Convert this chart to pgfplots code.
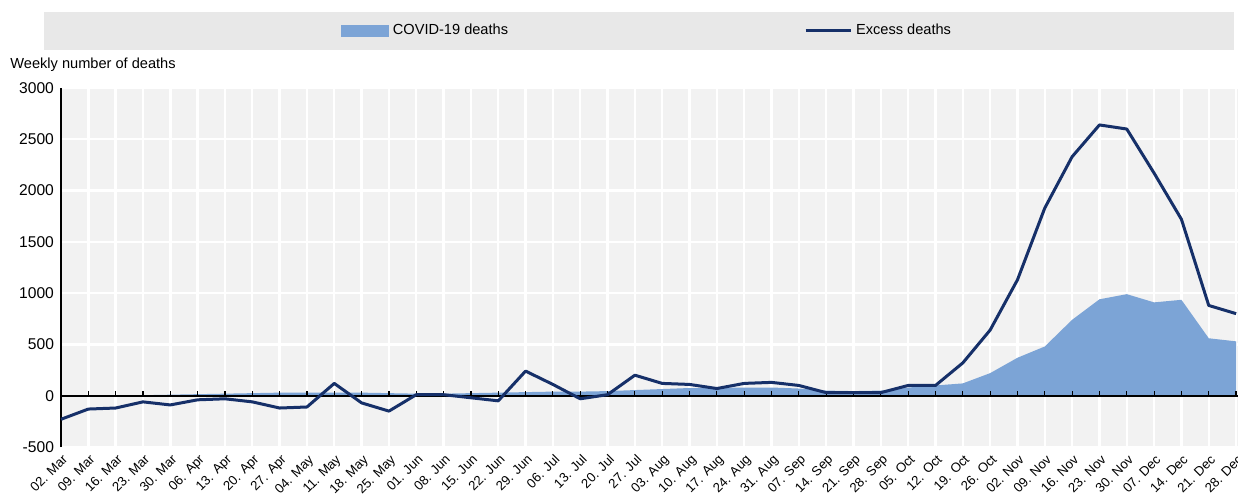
\documentclass[border=0pt]{standalone}
\usepackage{fontspec}
\setmainfont{Liberation Sans}
\usepackage{pgfplots}
\pgfplotsset{compat=1.18}
\definecolor{covid}{RGB}{124,164,214}
\definecolor{excess}{RGB}{22,48,105}
\definecolor{plotbg}{RGB}{242,242,242}
\definecolor{legbg}{RGB}{232,232,232}
\begin{document}
\begin{tikzpicture}
\fill[legbg] (-8.5pt,198.5pt) rectangle (586.5pt,217.5pt);
\begin{axis}[
  at={(0pt,0pt)}, anchor=south west,
  scale only axis, width=588.5pt, height=179.5pt,
  xmin=0, xmax=43.07, ymin=-500, ymax=3000,
  axis background/.style={fill=plotbg},
  axis y line*=left, axis x line*=bottom,
  x axis line style={draw=none},
  y axis line style={black, line width=0.8pt},
  xtick={0,...,43},
  xticklabels={02. Mar,09. Mar,16. Mar,23. Mar,30. Mar,06. Apr,13. Apr,20. Apr,27. Apr,04. May,11. May,18. May,25. May,01. Jun,08. Jun,15. Jun,22. Jun,29. Jun,06. Jul,13. Jul,20. Jul,27. Jul,03. Aug,10. Aug,17. Aug,24. Aug,31. Aug,07. Sep,14. Sep,21. Sep,28. Sep,05. Oct,12. Oct,19. Oct,26. Oct,02. Nov,09. Nov,16. Nov,23. Nov,30. Nov,07. Dec,14. Dec,21. Dec,28. Dec},
  xticklabel style={font=\fontsize{6.6}{7.5}\selectfont, rotate=45, anchor=north east, inner sep=1pt, xshift=-1pt, yshift=-1.5pt},
  ytick={-500,0,500,1000,1500,2000,2500,3000},
  yticklabel style={font=\fontsize{7.8}{9}\selectfont},
  /pgf/number format/assume math mode=true,
  /pgf/number format/1000 sep={},
  major tick length=0pt,
  grid=major,
  grid style={white, line width=1.2pt},
  legend columns=2,
  legend style={at={(0.4987,1.1588)}, anchor=center, draw=none, fill=none,
    font=\fontsize{7.3}{9}\selectfont, /tikz/every even column/.append style={column sep=146pt}},
  clip=false,
]
\addplot[fill=covid, draw=none,
  legend image code/.code={\fill[covid] (0pt,-3pt) rectangle (24pt,3pt);}]
coordinates {
(0,0) (1,0) (2,2) (3,5) (4,10) (5,15) (6,20) (7,25) (8,30) (9,30) (10,30) (11,30) (12,25) (13,20) (14,20) (15,25) (16,30) (17,35) (18,40) (19,40) (20,45) (21,55) (22,65) (23,75) (24,75) (25,80) (26,80) (27,70) (28,50) (29,45) (30,50) (31,80) (32,100) (33,120) (34,220) (35,370) (36,480) (37,740) (38,940) (39,990) (40,910) (41,935) (42,560) (43,530)
} \closedcycle;
\addlegendentry{COVID-19 deaths}
\draw[black, line width=0.9pt] (axis cs:0,0) -- (axis cs:43.07,0);
\pgfplotsinvokeforeach{0,...,43}{\draw[black, line width=0.6pt] (axis cs:#1,0) -- ++(0pt,2.5pt);}
\addplot[excess, line width=1.5pt, line join=round,
  legend image code/.code={\draw[excess, line width=1.5pt] (0pt,0pt) -- (22.5pt,0pt);}]
coordinates {
(0,-230) (1,-130) (2,-120) (3,-60) (4,-90) (5,-40) (6,-30) (7,-60) (8,-120) (9,-110) (10,120) (11,-70) (12,-150) (13,10) (14,10) (15,-20) (16,-50) (17,240) (18,110) (19,-30) (20,10) (21,200) (22,120) (23,110) (24,70) (25,120) (26,130) (27,100) (28,30) (29,30) (30,30) (31,100) (32,100) (33,320) (34,640) (35,1130) (36,1830) (37,2330) (38,2640) (39,2600) (40,2170) (41,1720) (42,880) (43,800)
};
\addlegendentry{Excess deaths}
\end{axis}
\node[anchor=base west, inner sep=0pt, font=\fontsize{7.3}{9}\selectfont] at (-25.5pt,189pt) {Weekly number of deaths};
\pgfresetboundingbox
\useasboundingbox (-30.5pt,-25.5pt) rectangle (588.5pt,223.5pt);
\end{tikzpicture}
\end{document}
